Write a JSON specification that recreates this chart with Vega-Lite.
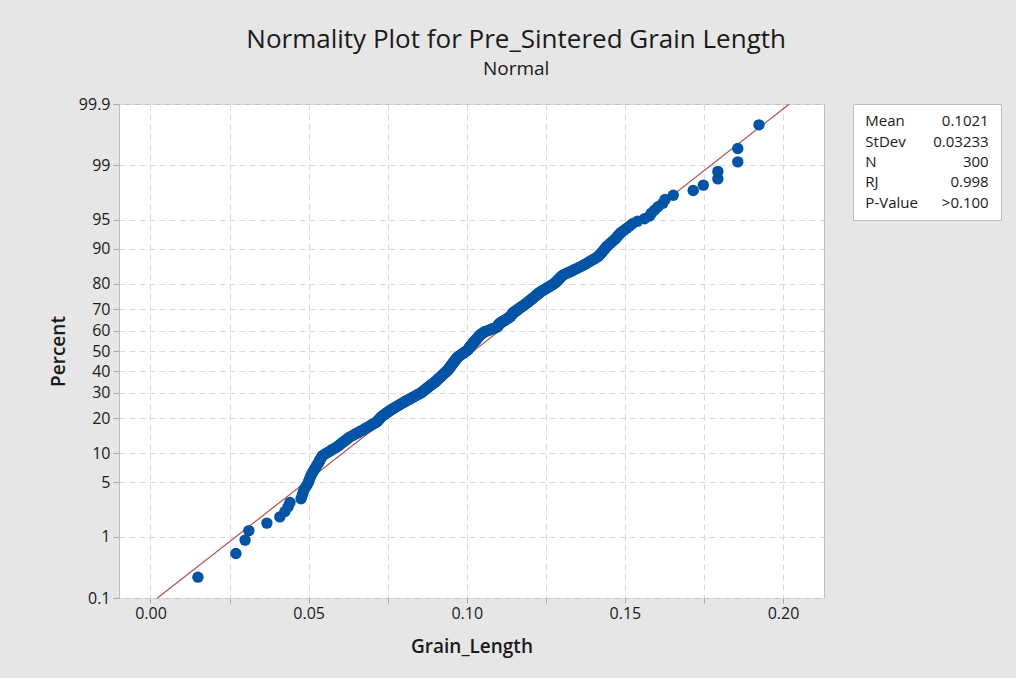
{
  "$schema": "https://vega.github.io/schema/vega-lite/v6.json",
  "background": "#e6e6e6",
  "padding": {"left": 48, "top": 26, "right": 17, "bottom": 22},
  "title": {
    "text": "Normality Plot for Pre_Sintered Grain Length",
    "subtitle": "Normal",
    "anchor": "middle",
    "dx": -9,
    "font": "Open Sans",
    "subtitleFont": "Open Sans",
    "fontSize": 26,
    "subtitleFontSize": 19,
    "fontWeight": "normal",
    "color": "#1a1a1a",
    "subtitleColor": "#1a1a1a",
    "subtitlePadding": 7,
    "offset": 17
  },
  "config": {
    "font": "Open Sans",
    "view": {"stroke": "#bdbdbd", "fill": "#ffffff"}
  },
  "spacing": 27,
  "hconcat": [
    {
      "width": 705,
      "height": 494,
      "layer": [
        {
          "data": {"values": [{"Grain_Length": 0.00219, "Percent": 0.1}, {"Grain_Length": 0.20201, "Percent": 99.9}]},
          "transform": [{"calculate": "quantileNormal(datum.Percent / 100)", "as": "z"}],
          "mark": {"type": "line", "color": "#b5504a", "strokeWidth": 1.2},
          "encoding": {
            "x": {"field": "Grain_Length", "type": "quantitative"},
            "y": {"field": "z", "type": "quantitative"}
          }
        },
        {
          "data": {"values": [
            {"Grain_Length":0.0150},{"Grain_Length":0.0270},{"Grain_Length":0.0299},{"Grain_Length":0.0311},{"Grain_Length":0.0368},
            {"Grain_Length":0.0409},{"Grain_Length":0.0425},{"Grain_Length":0.0435},{"Grain_Length":0.0441},{"Grain_Length":0.0476},
            {"Grain_Length":0.0480},{"Grain_Length":0.0483},{"Grain_Length":0.0487},{"Grain_Length":0.0493},{"Grain_Length":0.0498},
            {"Grain_Length":0.0501},{"Grain_Length":0.0504},{"Grain_Length":0.0507},{"Grain_Length":0.0510},{"Grain_Length":0.0514},
            {"Grain_Length":0.0518},{"Grain_Length":0.0522},{"Grain_Length":0.0525},{"Grain_Length":0.0529},{"Grain_Length":0.0533},
            {"Grain_Length":0.0535},{"Grain_Length":0.0538},{"Grain_Length":0.0541},{"Grain_Length":0.0544},{"Grain_Length":0.0552},
            {"Grain_Length":0.0560},{"Grain_Length":0.0568},{"Grain_Length":0.0575},{"Grain_Length":0.0583},{"Grain_Length":0.0590},
            {"Grain_Length":0.0596},{"Grain_Length":0.0601},{"Grain_Length":0.0606},{"Grain_Length":0.0612},{"Grain_Length":0.0617},
            {"Grain_Length":0.0622},{"Grain_Length":0.0627},{"Grain_Length":0.0633},{"Grain_Length":0.0640},{"Grain_Length":0.0646},
            {"Grain_Length":0.0653},{"Grain_Length":0.0659},{"Grain_Length":0.0666},{"Grain_Length":0.0673},{"Grain_Length":0.0678},
            {"Grain_Length":0.0684},{"Grain_Length":0.0690},{"Grain_Length":0.0696},{"Grain_Length":0.0701},{"Grain_Length":0.0707},
            {"Grain_Length":0.0713},{"Grain_Length":0.0717},{"Grain_Length":0.0720},{"Grain_Length":0.0722},{"Grain_Length":0.0725},
            {"Grain_Length":0.0727},{"Grain_Length":0.0730},{"Grain_Length":0.0734},{"Grain_Length":0.0738},{"Grain_Length":0.0742},
            {"Grain_Length":0.0746},{"Grain_Length":0.0750},{"Grain_Length":0.0754},{"Grain_Length":0.0758},{"Grain_Length":0.0762},
            {"Grain_Length":0.0767},{"Grain_Length":0.0771},{"Grain_Length":0.0776},{"Grain_Length":0.0780},{"Grain_Length":0.0785},
            {"Grain_Length":0.0789},{"Grain_Length":0.0794},{"Grain_Length":0.0798},{"Grain_Length":0.0803},{"Grain_Length":0.0807},
            {"Grain_Length":0.0812},{"Grain_Length":0.0817},{"Grain_Length":0.0821},{"Grain_Length":0.0826},{"Grain_Length":0.0830},
            {"Grain_Length":0.0835},{"Grain_Length":0.0840},{"Grain_Length":0.0844},{"Grain_Length":0.0849},{"Grain_Length":0.0853},
            {"Grain_Length":0.0857},{"Grain_Length":0.0860},{"Grain_Length":0.0863},{"Grain_Length":0.0866},{"Grain_Length":0.0869},
            {"Grain_Length":0.0872},{"Grain_Length":0.0875},{"Grain_Length":0.0878},{"Grain_Length":0.0881},{"Grain_Length":0.0884},
            {"Grain_Length":0.0887},{"Grain_Length":0.0890},{"Grain_Length":0.0893},{"Grain_Length":0.0896},{"Grain_Length":0.0899},
            {"Grain_Length":0.0902},{"Grain_Length":0.0904},{"Grain_Length":0.0907},{"Grain_Length":0.0909},{"Grain_Length":0.0911},
            {"Grain_Length":0.0914},{"Grain_Length":0.0916},{"Grain_Length":0.0919},{"Grain_Length":0.0921},{"Grain_Length":0.0923},
            {"Grain_Length":0.0926},{"Grain_Length":0.0928},{"Grain_Length":0.0930},{"Grain_Length":0.0933},{"Grain_Length":0.0935},
            {"Grain_Length":0.0938},{"Grain_Length":0.0940},{"Grain_Length":0.0942},{"Grain_Length":0.0943},{"Grain_Length":0.0945},
            {"Grain_Length":0.0946},{"Grain_Length":0.0948},{"Grain_Length":0.0950},{"Grain_Length":0.0951},{"Grain_Length":0.0953},
            {"Grain_Length":0.0954},{"Grain_Length":0.0956},{"Grain_Length":0.0958},{"Grain_Length":0.0959},{"Grain_Length":0.0961},
            {"Grain_Length":0.0962},{"Grain_Length":0.0964},{"Grain_Length":0.0966},{"Grain_Length":0.0967},{"Grain_Length":0.0969},
            {"Grain_Length":0.0971},{"Grain_Length":0.0973},{"Grain_Length":0.0976},{"Grain_Length":0.0979},{"Grain_Length":0.0982},
            {"Grain_Length":0.0985},{"Grain_Length":0.0988},{"Grain_Length":0.0991},{"Grain_Length":0.0994},{"Grain_Length":0.0997},
            {"Grain_Length":0.1000},{"Grain_Length":0.1003},{"Grain_Length":0.1005},{"Grain_Length":0.1006},{"Grain_Length":0.1008},
            {"Grain_Length":0.1009},{"Grain_Length":0.1010},{"Grain_Length":0.1012},{"Grain_Length":0.1014},{"Grain_Length":0.1016},
            {"Grain_Length":0.1018},{"Grain_Length":0.1020},{"Grain_Length":0.1021},{"Grain_Length":0.1023},{"Grain_Length":0.1025},
            {"Grain_Length":0.1027},{"Grain_Length":0.1029},{"Grain_Length":0.1031},{"Grain_Length":0.1032},{"Grain_Length":0.1034},
            {"Grain_Length":0.1036},{"Grain_Length":0.1038},{"Grain_Length":0.1040},{"Grain_Length":0.1042},{"Grain_Length":0.1044},
            {"Grain_Length":0.1047},{"Grain_Length":0.1050},{"Grain_Length":0.1053},{"Grain_Length":0.1057},{"Grain_Length":0.1062},
            {"Grain_Length":0.1068},{"Grain_Length":0.1074},{"Grain_Length":0.1079},{"Grain_Length":0.1085},{"Grain_Length":0.1091},
            {"Grain_Length":0.1096},{"Grain_Length":0.1098},{"Grain_Length":0.1099},{"Grain_Length":0.1101},{"Grain_Length":0.1102},
            {"Grain_Length":0.1104},{"Grain_Length":0.1106},{"Grain_Length":0.1110},{"Grain_Length":0.1114},{"Grain_Length":0.1118},
            {"Grain_Length":0.1122},{"Grain_Length":0.1125},{"Grain_Length":0.1129},{"Grain_Length":0.1133},{"Grain_Length":0.1137},
            {"Grain_Length":0.1139},{"Grain_Length":0.1140},{"Grain_Length":0.1142},{"Grain_Length":0.1144},{"Grain_Length":0.1145},
            {"Grain_Length":0.1147},{"Grain_Length":0.1151},{"Grain_Length":0.1154},{"Grain_Length":0.1158},{"Grain_Length":0.1161},
            {"Grain_Length":0.1164},{"Grain_Length":0.1168},{"Grain_Length":0.1171},{"Grain_Length":0.1175},{"Grain_Length":0.1178},
            {"Grain_Length":0.1182},{"Grain_Length":0.1185},{"Grain_Length":0.1189},{"Grain_Length":0.1192},{"Grain_Length":0.1195},
            {"Grain_Length":0.1198},{"Grain_Length":0.1201},{"Grain_Length":0.1205},{"Grain_Length":0.1208},{"Grain_Length":0.1211},
            {"Grain_Length":0.1214},{"Grain_Length":0.1217},{"Grain_Length":0.1221},{"Grain_Length":0.1224},{"Grain_Length":0.1227},
            {"Grain_Length":0.1230},{"Grain_Length":0.1234},{"Grain_Length":0.1239},{"Grain_Length":0.1244},{"Grain_Length":0.1249},
            {"Grain_Length":0.1253},{"Grain_Length":0.1258},{"Grain_Length":0.1263},{"Grain_Length":0.1268},{"Grain_Length":0.1273},
            {"Grain_Length":0.1277},{"Grain_Length":0.1281},{"Grain_Length":0.1284},{"Grain_Length":0.1287},{"Grain_Length":0.1290},
            {"Grain_Length":0.1293},{"Grain_Length":0.1296},{"Grain_Length":0.1299},{"Grain_Length":0.1303},{"Grain_Length":0.1308},
            {"Grain_Length":0.1316},{"Grain_Length":0.1323},{"Grain_Length":0.1331},{"Grain_Length":0.1338},{"Grain_Length":0.1345},
            {"Grain_Length":0.1353},{"Grain_Length":0.1361},{"Grain_Length":0.1367},{"Grain_Length":0.1374},{"Grain_Length":0.1381},
            {"Grain_Length":0.1388},{"Grain_Length":0.1394},{"Grain_Length":0.1401},{"Grain_Length":0.1408},{"Grain_Length":0.1415},
            {"Grain_Length":0.1419},{"Grain_Length":0.1423},{"Grain_Length":0.1427},{"Grain_Length":0.1431},{"Grain_Length":0.1435},
            {"Grain_Length":0.1439},{"Grain_Length":0.1442},{"Grain_Length":0.1448},{"Grain_Length":0.1454},{"Grain_Length":0.1460},
            {"Grain_Length":0.1466},{"Grain_Length":0.1472},{"Grain_Length":0.1477},{"Grain_Length":0.1482},{"Grain_Length":0.1488},
            {"Grain_Length":0.1497},{"Grain_Length":0.1506},{"Grain_Length":0.1515},{"Grain_Length":0.1524},{"Grain_Length":0.1540},
            {"Grain_Length":0.1562},{"Grain_Length":0.1578},{"Grain_Length":0.1584},{"Grain_Length":0.1594},{"Grain_Length":0.1605},
            {"Grain_Length":0.1620},{"Grain_Length":0.1627},{"Grain_Length":0.1653},{"Grain_Length":0.1716},{"Grain_Length":0.1748},
            {"Grain_Length":0.1794},{"Grain_Length":0.1794},{"Grain_Length":0.1857},{"Grain_Length":0.1857},{"Grain_Length":0.1924}
          ]},
          "transform": [
            {"window": [{"op": "row_number", "as": "rank"}], "sort": [{"field": "Grain_Length"}]},
            {"joinaggregate": [{"op": "count", "as": "n"}]},
            {"calculate": "quantileNormal((datum.rank - 0.3) / (datum.n + 0.4))", "as": "z"}
          ],
          "mark": {"type": "circle", "size": 130, "color": "#0054a6", "opacity": 1},
          "encoding": {
            "x": {
              "field": "Grain_Length",
              "type": "quantitative",
              "scale": {"domain": [-0.00996, 0.21296], "nice": false, "zero": false},
              "axis": {
                "title": "Grain_Length",
                "values": [0, 0.025, 0.05, 0.075, 0.1, 0.125, 0.15, 0.175, 0.2],
                "tickCount": 30,
                "labelExpr": "round(datum.value * 1000) % 50 == 0 ? format(datum.value, '.2f') : ''",
                "labelOverlap": false,
                "grid": true,
                "gridDash": [6, 4],
                "gridColor": "#d9d9d9",
                "domain": false,
                "tickColor": "#a8a8a8",
                "tickSize": 5,
                "labelPadding": 2,
                "labelFontSize": 16,
                "labelColor": "#1a1a1a",
                "titleFontSize": 19,
                "titleFontWeight": 600,
                "titleColor": "#1a1a1a",
                "titlePadding": 16
              }
            },
            "y": {
              "field": "z",
              "type": "quantitative",
              "scale": {"domain": [-3.0902, 3.0902], "nice": false, "zero": false},
              "axis": {
                "title": "Percent",
                "values": [-3.0902, -2.3263, -1.6449, -1.2816, -0.8416, -0.5244, -0.2533, 0, 0.2533, 0.5244, 0.8416, 1.2816, 1.6449, 2.3263, 3.0902],
                "tickCount": 40,
                "labelExpr": "abs(datum.value) > 3 ? format(cumulativeNormal(datum.value) * 100, '.1f') : format(cumulativeNormal(datum.value) * 100, '.0f')",
                "labelOverlap": false,
                "grid": true,
                "gridDash": [6, 4],
                "gridColor": "#d9d9d9",
                "domain": false,
                "tickColor": "#a8a8a8",
                "tickSize": 6,
                "labelPadding": 3,
                "labelFontSize": 16,
                "labelColor": "#1a1a1a",
                "titleFontSize": 19,
                "titleFontWeight": 600,
                "titleColor": "#1a1a1a",
                "titlePadding": 10
              }
            }
          }
        }
      ]
    },
    {
      "width": 148,
      "height": 116,
      "data": {"values": [
        {"Statistic": "Mean", "Value": "0.1021"},
        {"Statistic": "StDev", "Value": "0.03233"},
        {"Statistic": "N", "Value": "300"},
        {"Statistic": "RJ", "Value": "0.998"},
        {"Statistic": "P-Value", "Value": ">0.100"}
      ]},
      "encoding": {
        "y": {"field": "Statistic", "type": "nominal", "sort": null, "axis": null, "scale": {"type": "point", "padding": 0.85}}
      },
      "layer": [
        {
          "mark": {"type": "text", "align": "left", "baseline": "middle", "fontSize": 15, "color": "#1a1a1a"},
          "encoding": {
            "x": {"datum": 0, "type": "quantitative", "scale": {"domain": [-0.061, 1.069]}, "axis": null},
            "text": {"field": "Statistic"}
          }
        },
        {
          "mark": {"type": "text", "align": "right", "baseline": "middle", "fontSize": 15, "color": "#1a1a1a"},
          "encoding": {
            "x": {"datum": 1, "type": "quantitative", "axis": null},
            "text": {"field": "Value"}
          }
        }
      ]
    }
  ]
}
